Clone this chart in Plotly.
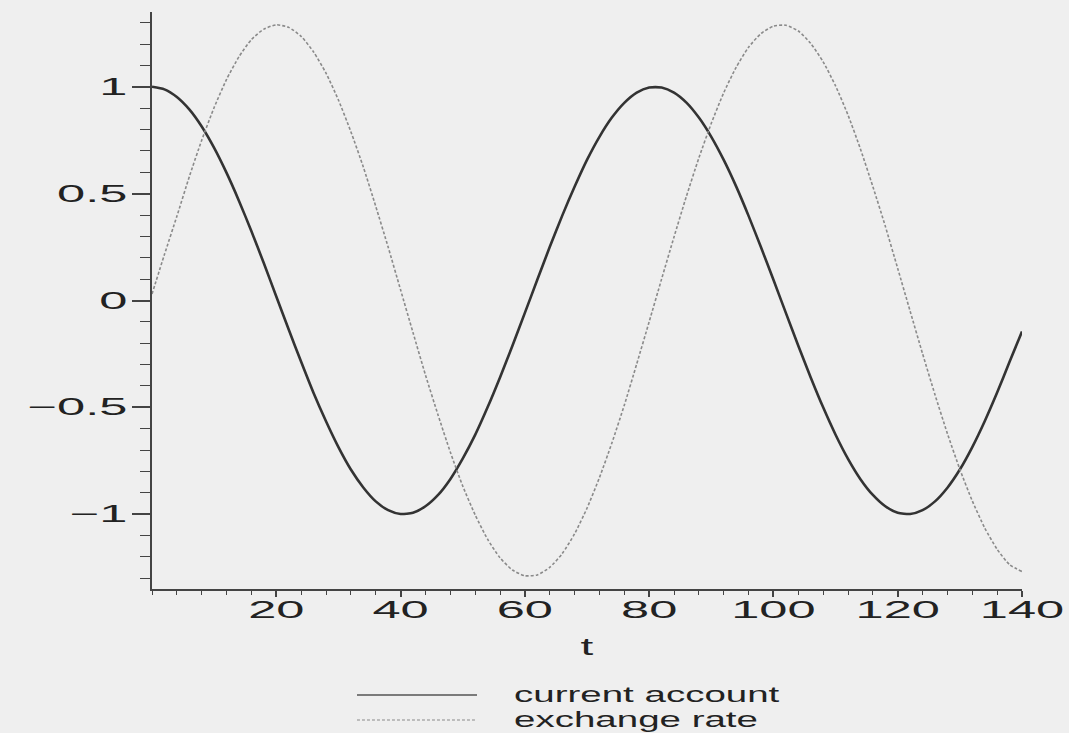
import plotly.graph_objects as go

# time grid, every 2 periods
t = list(range(0, 141, 2))

current_account = [
    1.000, 0.988, 0.952, 0.894, 0.814, 0.714, 0.597, 0.466, 0.324, 0.174,
    0.019, -0.136, -0.287, -0.433, -0.565, -0.686, -0.791, -0.875, -0.940, -0.981,
    -0.999, -0.993, -0.963, -0.911, -0.836, -0.740, -0.629, -0.500, -0.360, -0.212,
    -0.058, 0.097, 0.250, 0.396, 0.532, 0.658, 0.766, 0.856, 0.925, 0.973,
    0.997, 0.997, 0.973, 0.926, 0.856, 0.766, 0.658, 0.534, 0.396, 0.249,
    0.097, -0.058, -0.212, -0.360, -0.500, -0.628, -0.741, -0.836, -0.910, -0.963,
    -0.993, -0.999, -0.981, -0.940, -0.876, -0.791, -0.686, -0.565, -0.431, -0.287,
    -0.145,
]

exchange_rate = [
    0.030, 0.215, 0.394, 0.579, 0.750, 0.903, 1.035, 1.141, 1.221, 1.270,
    1.290, 1.278, 1.236, 1.163, 1.064, 0.938, 0.790, 0.625, 0.441, 0.250,
    0.050, -0.150, -0.348, -0.533, -0.709, -0.868, -1.003, -1.117, -1.204, -1.261,
    -1.288, -1.284, -1.249, -1.185, -1.092, -0.972, -0.829, -0.667, -0.490, -0.297,
    -0.100, 0.100, 0.297, 0.488, 0.667, 0.829, 0.972, 1.091, 1.185, 1.249,
    1.284, 1.288, 1.261, 1.203, 1.117, 1.004, 0.868, 0.709, 0.533, 0.348,
    0.150, -0.050, -0.249, -0.441, -0.623, -0.790, -0.938, -1.064, -1.164, -1.236,
    -1.268,
]

x_ticks = [20, 40, 60, 80, 100, 120, 140]
y_ticks = [-1, -0.5, 0, 0.5, 1]
y_tick_text = ["\u22121", "\u22120.5", "0", "0.5", "1"]

series_names = ["current account", "exchange rate"]

BG = "#efefef"
INK = "#222222"
AXIS = "#444444"
SOLID = "#333333"
DASHED = "#8a8a8a"
FONT = "Liberation Sans"

fig = go.Figure()
fig.add_trace(go.Scatter(
    x=t, y=current_account, mode="lines", name=series_names[0],
    line=dict(color=SOLID, width=2.6, shape="spline", smoothing=0.6),
    showlegend=False,
))
fig.add_trace(go.Scatter(
    x=t, y=exchange_rate, mode="lines", name=series_names[1],
    line=dict(color=DASHED, width=1.6, dash="3px,2px", shape="spline",
              smoothing=0.6),
    showlegend=False,
))

# legend keys drawn below the axis title
key_x0, key_x1, text_x = 0.2356, 0.3736, 0.414
key_rows = [-0.1837, -0.2270]
key_styles = [dict(color="#555555", width=1.6),
              dict(color=DASHED, width=1.2, dash="3px,2px")]
for name, ky, style in zip(series_names, key_rows, key_styles):
    fig.add_shape(type="line", xref="paper", yref="paper",
                  x0=key_x0, x1=key_x1, y0=ky, y1=ky, line=style)
    fig.add_annotation(xref="paper", yref="paper", x=text_x, y=ky,
                       text=name, showarrow=False, xanchor="left",
                       yanchor="middle",
                       font=dict(family=FONT, size=22, color=INK))

fig.add_annotation(xref="paper", yref="paper", x=0.5, y=-0.1005, text="t",
                   showarrow=False, xanchor="center", yanchor="middle",
                   font=dict(family=FONT, size=23, color=INK))

fig.update_layout(
    width=1069, height=733,
    margin=dict(l=152, r=47, t=12, b=144),
    paper_bgcolor=BG, plot_bgcolor=BG,
    font=dict(family=FONT, size=23, color=INK),
    xaxis=dict(
        range=[0, 140], showgrid=False, zeroline=False,
        showline=True, linecolor=AXIS, linewidth=2,
        tickmode="array", tickvals=x_ticks,
        ticks="outside", ticklen=6, tickwidth=1.5, tickcolor=AXIS,
        ticklabelstandoff=-7,
        tickfont=dict(family=FONT, size=23, color=INK),
        minor=dict(dtick=4, tick0=0, ticks="outside", ticklen=4,
                   tickwidth=1, tickcolor=AXIS, showgrid=False),
    ),
    yaxis=dict(
        range=[-1.35, 1.35], showgrid=False, zeroline=False,
        showline=True, linecolor=AXIS, linewidth=2,
        tickmode="array", tickvals=y_ticks, ticktext=y_tick_text,
        ticks="outside", ticklen=18, tickwidth=1.5, tickcolor=AXIS,
        tickfont=dict(family=FONT, size=23, color=INK),
        minor=dict(dtick=0.1, tick0=0, ticks="outside", ticklen=10,
                   tickwidth=1, tickcolor=AXIS, showgrid=False),
    ),
)

# Widen the glyphs horizontally (extended sans look) around each label's anchor
widen_text = """
var gd = document.getElementById('{plot_id}');
function widen(sel, s, mode) {
  gd.querySelectorAll(sel).forEach(function (el) {
    var b = el.getBBox();
    var px = mode === 'left' ? b.x : (mode === 'right' ? b.x + b.width : b.x + b.width / 2);
    var tr = el.getAttribute('transform') || '';
    el.setAttribute('transform', tr + ' translate(' + px + ',0) scale(' + s + ',1) translate(' + (-px) + ',0)');
  });
}
widen('.xtick text', 2.2, 'center');
widen('.ytick text', 2.2, 'right');
widen('.annotation[data-index="0"] text', 1.75, 'left');
widen('.annotation[data-index="1"] text', 1.75, 'left');
widen('.annotation[data-index="2"] text', 2.0, 'center');
"""

fig.write_html("out.html", post_script=widen_text)
